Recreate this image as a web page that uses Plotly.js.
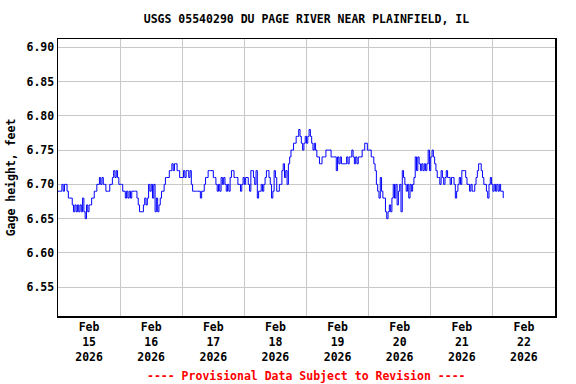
<!DOCTYPE html>
<html>
<head>
<meta charset="utf-8">
<script src="https://cdn.plot.ly/plotly-3.0.1.min.js"></script>
<style>html,body{margin:0;padding:0;background:#fff;}#chart{width:576px;height:384px;}</style>
</head>
<body>
<div id="chart"></div>
<script>
// Half-hourly gage height readings (feet), starting 2026-02-15 00:00
const startTime = "2026-02-15T00:00:00";
const stepMinutes = 30;
const feb15 = [6.69,6.69,6.69,6.70,6.69,6.70,6.70,6.69,6.68,6.68,6.68,6.67,6.66,6.67,6.66,6.67,6.66,6.67,6.66,6.68,6.66,6.65,6.67,6.66,
               6.67,6.67,6.68,6.68,6.69,6.69,6.70,6.70,6.71,6.70,6.71,6.70,6.70,6.69,6.69,6.69,6.70,6.70,6.71,6.72,6.71,6.72,6.71,6.70];
const feb16 = [6.70,6.70,6.69,6.69,6.68,6.69,6.68,6.69,6.68,6.69,6.69,6.69,6.69,6.68,6.67,6.66,6.66,6.66,6.67,6.68,6.67,6.68,6.70,6.69,
               6.70,6.68,6.70,6.66,6.68,6.66,6.67,6.68,6.69,6.69,6.70,6.71,6.71,6.71,6.72,6.72,6.73,6.72,6.73,6.73,6.72,6.72,6.71,6.71];
const feb17 = [6.71,6.72,6.71,6.72,6.72,6.71,6.72,6.70,6.69,6.69,6.69,6.69,6.69,6.69,6.68,6.69,6.69,6.70,6.71,6.71,6.72,6.72,6.72,6.72,
               6.71,6.71,6.70,6.69,6.70,6.69,6.71,6.70,6.71,6.70,6.69,6.70,6.69,6.71,6.72,6.72,6.71,6.71,6.71,6.70,6.70,6.69,6.70,6.71];
const feb18 = [6.70,6.71,6.71,6.70,6.69,6.72,6.72,6.71,6.70,6.72,6.68,6.69,6.69,6.70,6.69,6.70,6.71,6.72,6.72,6.71,6.70,6.68,6.69,6.72,
               6.71,6.69,6.69,6.70,6.70,6.72,6.73,6.71,6.72,6.70,6.73,6.74,6.75,6.75,6.76,6.76,6.77,6.77,6.78,6.77,6.76,6.75,6.76,6.77];
const feb19 = [6.76,6.77,6.78,6.77,6.76,6.75,6.76,6.75,6.74,6.74,6.73,6.73,6.74,6.74,6.74,6.75,6.75,6.75,6.75,6.74,6.74,6.74,6.74,6.72,
               6.74,6.73,6.74,6.73,6.73,6.73,6.73,6.74,6.73,6.74,6.74,6.75,6.74,6.73,6.74,6.73,6.74,6.74,6.74,6.75,6.75,6.76,6.76,6.75];
const feb20 = [6.75,6.75,6.74,6.74,6.73,6.72,6.70,6.69,6.68,6.71,6.69,6.68,6.68,6.66,6.65,6.66,6.67,6.66,6.68,6.70,6.68,6.70,6.67,6.69,
               6.70,6.66,6.72,6.71,6.70,6.69,6.70,6.68,6.70,6.69,6.70,6.71,6.74,6.72,6.74,6.73,6.72,6.73,6.72,6.73,6.72,6.73,6.75,6.72];
const feb21 = [6.74,6.75,6.74,6.73,6.72,6.71,6.71,6.70,6.72,6.71,6.70,6.71,6.72,6.71,6.71,6.70,6.71,6.71,6.70,6.68,6.69,6.70,6.71,6.70,
               6.72,6.72,6.72,6.71,6.70,6.70,6.69,6.70,6.69,6.69,6.70,6.71,6.72,6.73,6.73,6.72,6.71,6.70,6.70,6.69,6.68,6.70,6.71,6.70];
const feb22 = [6.69,6.70,6.69,6.70,6.69,6.70,6.69,6.69,6.68];

const yTickVals = [6.55,6.60,6.65,6.70,6.75,6.80,6.85,6.90];
const titleText = "USGS 05540290 DU PAGE RIVER NEAR PLAINFIELD, IL";
const yTitle = "Gage height, feet";
const footnote = "---- Provisional Data Subject to Revision ----";

const values = [].concat(feb15, feb16, feb17, feb18, feb19, feb20, feb21, feb22);
const t0 = new Date(startTime + "Z").getTime();
const times = values.map((v, i) => new Date(t0 + i * stepMinutes * 60000).toISOString().slice(0,19).replace("T"," "));

const font = "DejaVu Sans Mono, Liberation Mono, monospace";
const fs = 11.5;

Plotly.newPlot("chart", [{
  x: times, y: values, type: "scatter", mode: "lines",
  line: {color: "#0000ff", width: 1, shape: "hv"}, hoverinfo: "skip"
}], {
  width: 576, height: 384,
  margin: {l: 58, r: 21, t: 39, b: 68},
  paper_bgcolor: "#fff", plot_bgcolor: "#fff",
  showlegend: false,
  title: {text: "<b>" + titleText + "</b>", x: 0.532, xanchor: "center", y: 0.95, yanchor: "middle",
          font: {family: font, size: fs, color: "#000"}},
  xaxis: {
    type: "date", range: ["2026-02-15 00:00", "2026-02-23 00:00"],
    dtick: 86400000, tick0: "2026-02-15", ticklabelmode: "period",
    tickformat: "<b>%b</b><br><b>%d</b><br><b>%Y</b>",
    showgrid: true, gridcolor: "#c8c8c8", gridwidth: 1,
    showline: true, linecolor: "#000", linewidth: 1.5, mirror: true,
    ticks: "", tickfont: {family: font, size: fs, color: "#000"},
    zeroline: false
  },
  yaxis: {
    range: [6.508, 6.912], tickvals: yTickVals, tickformat: ".2f",
    showgrid: true, gridcolor: "#c8c8c8", gridwidth: 1,
    showline: true, linecolor: "#000", linewidth: 1.5, mirror: true,
    ticks: "", tickfont: {family: font, size: fs, color: "#000", weight: "bold"},
    zeroline: false,
    title: {text: "<b>" + yTitle + "</b>", font: {family: font, size: fs, color: "#000"}, standoff: 8}
  },
  annotations: [{
    text: "<b>" + footnote + "</b>", xref: "paper", yref: "paper", x: 0.5, y: -0.215,
    xanchor: "center", yanchor: "middle", showarrow: false,
    font: {family: font, size: fs, color: "#ff0000"}
  }]
}, {displayModeBar: false, staticPlot: true});
</script>
</body>
</html>
